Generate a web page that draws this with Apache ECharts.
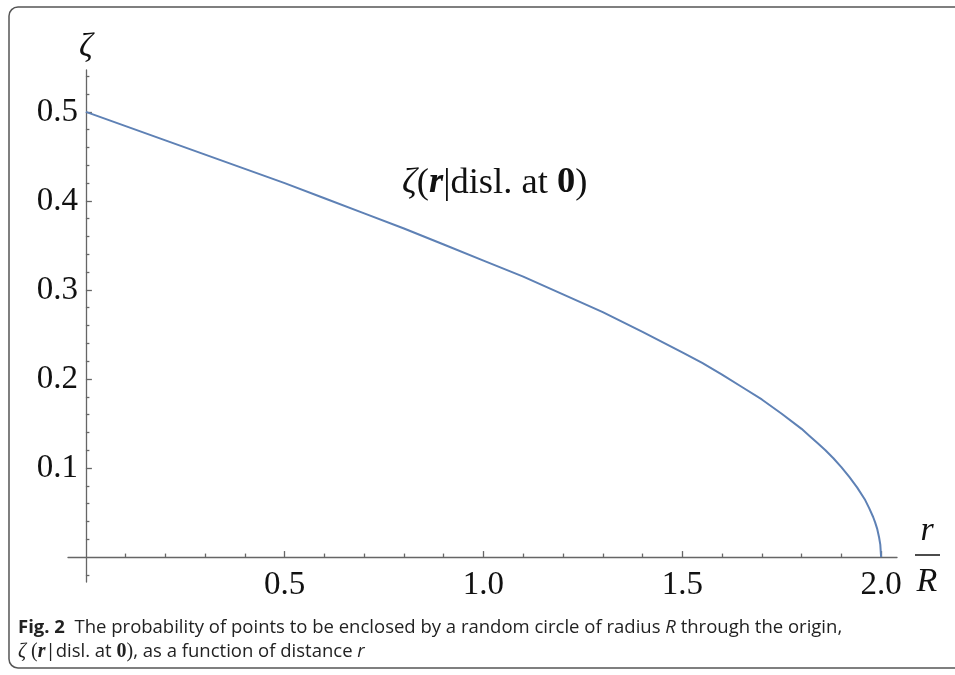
<!DOCTYPE html>
<html><head><meta charset="utf-8">
<script src="https://cdn.jsdelivr.net/npm/echarts@6/dist/echarts.min.js"></script>
<style>html,body{margin:0;padding:0;background:#fff}#c{width:955px;height:675px}</style>
</head><body><div id="c"></div>
<script>
// r/R values and read-off ζ values
const rValues = [0, 0.1, 0.2, 0.3, 0.4, 0.5, 0.6, 0.7, 0.8, 0.9, 1.0, 1.1, 1.2, 1.3, 1.4, 1.5, 1.55, 1.6, 1.65, 1.7, 1.75, 1.8, 1.82, 1.84, 1.86, 1.88, 1.9, 1.92, 1.94, 1.96, 1.97, 1.98, 1.985, 1.99, 1.995, 1.998, 2.0];
const zetaValues = [0.500, 0.484, 0.468, 0.452, 0.436, 0.420, 0.403, 0.386, 0.369, 0.351, 0.333, 0.315, 0.295, 0.275, 0.253, 0.230, 0.218, 0.205, 0.191, 0.177, 0.161, 0.144, 0.136, 0.128, 0.120, 0.111, 0.101, 0.090, 0.078, 0.064, 0.055, 0.045, 0.039, 0.032, 0.022, 0.014, 0.0];
const xTickLabels = [0.5, 1.0, 1.5, 2.0];
const xMinorTicks = [0.1,0.2,0.3,0.4,0.6,0.7,0.8,0.9,1.1,1.2,1.3,1.4,1.6,1.7,1.8,1.9];
const yTickLabels = [0.1, 0.2, 0.3, 0.4, 0.5];
const yMinorTicks = [-0.02,0.02,0.04,0.06,0.08,0.12,0.14,0.16,0.18,0.22,0.24,0.26,0.28,0.32,0.34,0.36,0.38,0.42,0.44,0.46,0.48,0.52,0.54];

const serif = 'Liberation Serif';
const sans = 'Open Sans';
const axisColor = '#666';
const lineColor = '#5E81B5';

const chart = echarts.init(document.getElementById('c'), null, {renderer: 'canvas'});
const xBase = {
  type: 'value', min: -0.045, max: 2.04, gridIndex: 0,
  splitLine: {show: false}
};
const yBase = {
  type: 'value', min: -0.028, max: 0.547, gridIndex: 0,
  splitLine: {show: false}
};
chart.setOption({
  animation: false,
  grid: {left: 68, top: 70, width: 829, height: 512, containLabel: false},
  xAxis: [
    Object.assign({}, xBase, {
      position: 'bottom',
      axisLine: {show: true, onZero: true, lineStyle: {color: axisColor, width: 1.3}},
      axisTick: {show: true, inside: true, length: 3.5, customValues: xMinorTicks, lineStyle: {color: axisColor, width: 1.3}},
      axisLabel: {show: true, customValues: xTickLabels, formatter: v => v.toFixed(1),
        fontFamily: serif, fontSize: 33, color: '#111', margin: -13}
    }),
    Object.assign({}, xBase, {
      position: 'bottom',
      axisLine: {show: false, onZero: true},
      axisTick: {show: true, inside: true, length: 6, customValues: xTickLabels, lineStyle: {color: axisColor, width: 1.3}},
      axisLabel: {show: false}
    })
  ],
  yAxis: [
    Object.assign({}, yBase, {
      position: 'left',
      axisLine: {show: true, onZero: true, lineStyle: {color: axisColor, width: 1.3}},
      axisTick: {show: true, inside: true, length: 3.5, customValues: yMinorTicks, lineStyle: {color: axisColor, width: 1.3}},
      axisLabel: {show: true, customValues: yTickLabels, formatter: v => v.toFixed(1),
        fontFamily: serif, fontSize: 33, color: '#111', margin: -10},
      name: 'ζ', nameLocation: 'end', nameGap: 6,
      nameTextStyle: {fontFamily: serif, fontStyle: 'italic', fontSize: 34, color: '#111', align: 'center'}
    }),
    Object.assign({}, yBase, {
      position: 'left',
      axisLine: {show: false, onZero: true},
      axisTick: {show: true, inside: true, length: 6, customValues: yTickLabels, lineStyle: {color: axisColor, width: 1.3}},
      axisLabel: {show: false}
    })
  ],
  series: [{
    type: 'line', xAxisIndex: 0, yAxisIndex: 0,
    data: rValues.map((r, i) => [r, zetaValues[i]]),
    showSymbol: false, smooth: false,
    lineStyle: {color: lineColor, width: 2, join: 'round'},
    clip: false
  }],
  graphic: [
    {type: 'rect', shape: {x: 9, y: 7, width: 980, height: 661, r: 9},
     style: {fill: 'none', stroke: '#555', lineWidth: 1.5}, z: -1},
    {type: 'text', x: 402, y: 183,
     style: {
       verticalAlign: 'middle',
       text: '{z|ζ}{p|(}{b|r}{p||disl. at }{o|0}{p|)}',
       rich: {
         z: {fontFamily: serif, fontStyle: 'italic', fontSize: 36.5, fill: '#111'},
         p: {fontFamily: serif, fontSize: 36.5, fill: '#111'},
         b: {fontFamily: serif, fontStyle: 'italic', fontWeight: 'bold', fontSize: 36.5, fill: '#111'},
         o: {fontFamily: serif, fontWeight: 'bold', fontSize: 36.5, fill: '#111'}
       }
     }},
    {type: 'text', x: 927, y: 531,
     style: {text: 'r', align: 'center', verticalAlign: 'middle', fontFamily: serif, fontStyle: 'italic', fontSize: 34, fill: '#111'}},
    {type: 'line', shape: {x1: 915, y1: 555, x2: 940, y2: 555}, style: {stroke: '#111', lineWidth: 1.5}},
    {type: 'text', x: 927, y: 582,
     style: {text: 'R', align: 'center', verticalAlign: 'middle', fontFamily: serif, fontStyle: 'italic', fontSize: 34, fill: '#111'}},
    {type: 'text', x: 18, y: 628,
     style: {
       verticalAlign: 'middle',
       text: '{fb|Fig. 2}{f|  The probability of points to be enclosed by a random circle of radius }{fi|R}{f| through the origin,}',
       rich: {
         fb: {fontFamily: sans, fontWeight: 'bold', fontSize: 18.5, fill: '#222'},
         f: {fontFamily: sans, fontSize: 18.5, fill: '#222'},
         fi: {fontFamily: sans, fontStyle: 'italic', fontSize: 18.5, fill: '#222'}
       }
     }},
    {type: 'text', x: 18, y: 652,
     style: {
       verticalAlign: 'middle',
       text: '{z|ζ}{s| (}{b|r}{f||disl. at }{o|0}{s|)}{f|, as a function of distance }{fi|r}',
       rich: {
         z: {fontFamily: serif, fontStyle: 'italic', fontSize: 20, fill: '#222'},
         s: {fontFamily: serif, fontSize: 20, fill: '#222'},
         b: {fontFamily: serif, fontStyle: 'italic', fontWeight: 'bold', fontSize: 20, fill: '#222'},
         o: {fontFamily: serif, fontWeight: 'bold', fontSize: 20, fill: '#222'},
         f: {fontFamily: sans, fontSize: 18.5, fill: '#222'},
         fi: {fontFamily: sans, fontStyle: 'italic', fontSize: 18.5, fill: '#222'}
       }
     }}
  ]
});
</script></body></html>
